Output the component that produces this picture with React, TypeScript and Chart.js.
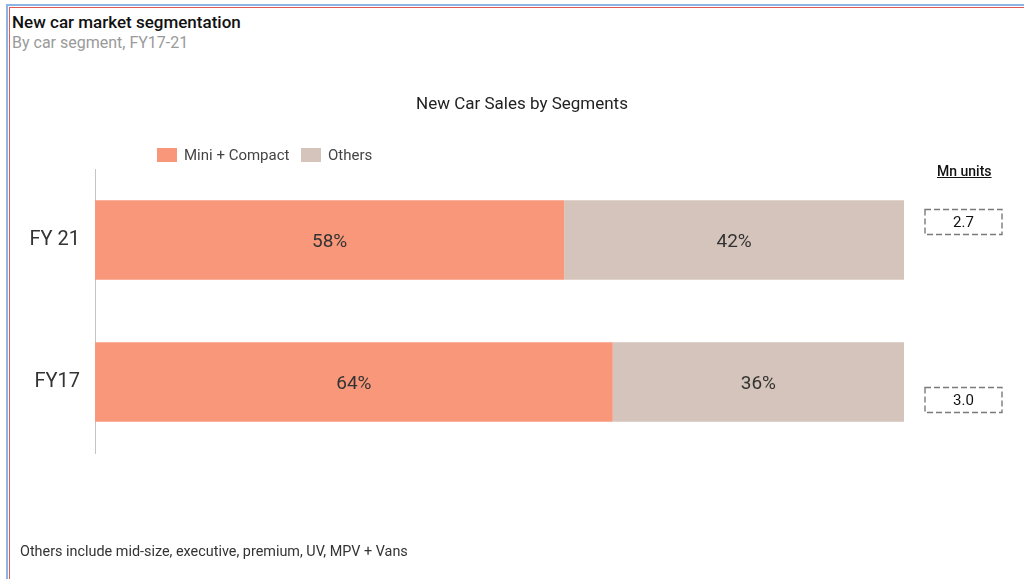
import React, { useEffect, useRef } from "react";
import { Chart, registerables } from "chart.js";

Chart.register(...registerables);

const categories = ["FY 21", "FY17"];
const miniCompact = [58, 64];
const others = [42, 36];
const totals = ["2.7", "3.0"];
const seriesNames = ["Mini + Compact", "Others"];
const seriesColors = ["#F8977A", "#D5C4BB"];

const FONT = "Roboto, 'Noto Sans', Arial, sans-serif";

const labelsPlugin = {
  id: "barLabels",
  afterDatasetsDraw(chart: any) {
    const ctx = chart.ctx;
    ctx.save();
    ctx.font = `19px ${FONT}`;
    ctx.fillStyle = "#333";
    ctx.textAlign = "center";
    ctx.textBaseline = "middle";
    chart.data.datasets.forEach((ds: any, di: number) => {
      const meta = chart.getDatasetMeta(di);
      meta.data.forEach((bar: any, i: number) => {
        const p = bar.getProps(["x", "y", "base"], true);
        ctx.fillText(`${ds.data[i]}%`, (p.x + p.base) / 2, p.y + 2);
      });
    });
    const yScale = chart.scales.y;
    const offsets = [-18, 18];
    totals.forEach((t, i) => {
      const cy = yScale.getPixelForValue(i) + offsets[i];
      const cx = 963.5;
      const w = 77;
      const h = 25;
      ctx.save();
      ctx.setLineDash([6, 3]);
      ctx.lineWidth = 1.4;
      ctx.strokeStyle = "#7a7a7a";
      ctx.strokeRect(cx - w / 2, cy - h / 2, w, h);
      ctx.restore();
      ctx.font = `15px ${FONT}`;
      ctx.fillStyle = "#111";
      ctx.fillText(t, cx, cy + 1);
    });
    ctx.restore();
  },
};

function BarChart() {
  const ref = useRef<HTMLCanvasElement | null>(null);
  useEffect(() => {
    if (!ref.current) return;
    const chart = new Chart(ref.current, {
      type: "bar",
      data: {
        labels: categories,
        datasets: [
          {
            label: seriesNames[0],
            data: miniCompact,
            backgroundColor: seriesColors[0],
            borderWidth: 0,
            barPercentage: 0.56,
            categoryPercentage: 1,
          },
          {
            label: seriesNames[1],
            data: others,
            backgroundColor: seriesColors[1],
            borderWidth: 0,
            barPercentage: 0.56,
            categoryPercentage: 1,
          },
        ],
      },
      options: {
        indexAxis: "y",
        responsive: true,
        maintainAspectRatio: false,
        animation: false,
        layout: { padding: { top: 169, bottom: 126, left: 0, right: 120 } },
        plugins: {
          legend: { display: false },
          title: { display: false },
          tooltip: { enabled: false },
        },
        scales: {
          x: {
            stacked: true,
            min: 0,
            max: 100,
            display: false,
          },
          y: {
            stacked: true,
            grid: { display: false, drawTicks: false },
            border: { display: true, color: "#c4c4c4", width: 1 },
            ticks: {
              color: "#333",
              padding: 15,
              font: { family: FONT, size: 20 },
            },
            afterFit: (scale: any) => {
              scale.width = 95;
            },
          },
        },
      },
      plugins: [labelsPlugin],
    } as any);
    return () => chart.destroy();
  }, []);
  return <canvas ref={ref} />;
}

const abs = (o: React.CSSProperties): React.CSSProperties => ({
  position: "absolute",
  fontFamily: FONT,
  lineHeight: 1,
  whiteSpace: "nowrap",
  margin: 0,
  ...o,
});

export default function App() {
  return (
    <div
      style={{
        position: "fixed",
        left: 0,
        top: 0,
        width: 1024,
        height: 579,
        background: "#fff",
        overflow: "hidden",
      }}
    >
      {/* frame lines */}
      <div style={{ position: "absolute", left: 6, top: 4, width: 2, height: 575, background: "#8db4e2" }} />
      <div style={{ position: "absolute", left: 6, top: 4, width: 1018, height: 2, background: "#8db4e2" }} />
      <div style={{ position: "absolute", left: 9, top: 7, width: 1, height: 572, background: "#e05a5a" }} />
      <div style={{ position: "absolute", left: 9, top: 7, width: 1015, height: 1, background: "#e05a5a" }} />

      <div style={abs({ left: 12, top: 14, fontSize: 17, fontWeight: 500, color: "#111" })}>
        New car market segmentation
      </div>
      <div style={abs({ left: 12, top: 35, fontSize: 16, color: "#9a9a9a" })}>
        By car segment, FY17-21
      </div>

      <div style={{ position: "absolute", left: 0, top: 0, width: 1024, height: 579 }}>
        <BarChart />
      </div>

      <div style={abs({ left: 322, width: 400, textAlign: "center", top: 95, fontSize: 17, color: "#222" })}>
        New Car Sales by Segments
      </div>

      {/* legend */}
      <div style={{ position: "absolute", left: 157, top: 148, width: 20, height: 14, background: seriesColors[0] }} />
      <div style={abs({ left: 184, top: 148, fontSize: 15, color: "#444" })}>{seriesNames[0]}</div>
      <div style={{ position: "absolute", left: 301, top: 148, width: 20, height: 14, background: seriesColors[1] }} />
      <div style={abs({ left: 328, top: 148, fontSize: 15, color: "#444" })}>{seriesNames[1]}</div>

      <div
        style={abs({
          left: 937,
          top: 164,
          fontSize: 14,
          fontWeight: 500,
          color: "#111",
          textDecoration: "underline",
        })}
      >
        Mn units
      </div>

      <div style={abs({ left: 20, top: 545, fontSize: 14.4, color: "#333" })}>
        Others include mid-size, executive, premium, UV, MPV + Vans
      </div>
    </div>
  );
}
